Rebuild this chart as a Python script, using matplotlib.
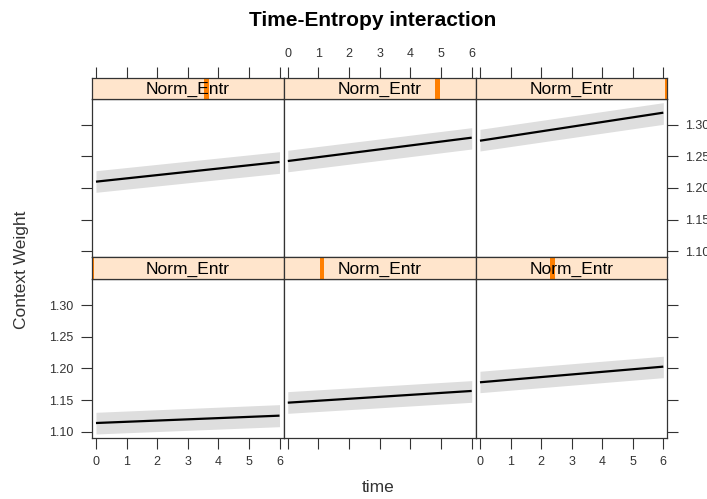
import matplotlib
matplotlib.use("Agg")
import matplotlib.pyplot as plt
from matplotlib.patches import Rectangle

plt.rcParams['font.family'] = ['Liberation Sans', 'DejaVu Sans']

# Effect of time on context weight, conditioned on normalised entropy
times = [0, 6]
entropy_pos = [0.0, 0.2, 0.4, 0.6, 0.8, 1.0]   # position of Norm_Entr within its range
fit_start = [1.1137, 1.1458, 1.1780, 1.2100, 1.2426, 1.2747]
fit_end = [1.1253, 1.1643, 1.2027, 1.2411, 1.2795, 1.3190]
lower_start = [1.0964, 1.1290, 1.1616, 1.1932, 1.2256, 1.2585]
upper_start = [1.1306, 1.1632, 1.1954, 1.2273, 1.2596, 1.2927]
lower_end = [1.1079, 1.1464, 1.1853, 1.2232, 1.2616, 1.3006]
upper_end = [1.1427, 1.1806, 1.2191, 1.2573, 1.2953, 1.3348]

x_ticks = [0, 1, 2, 3, 4, 5, 6]
x_ticklabels = ["0", "1", "2", "3", "4", "5", "6"]
y_ticks = [1.10, 1.15, 1.20, 1.25, 1.30]
y_ticklabels = ["1.10", "1.15", "1.20", "1.25", "1.30"]

W, H = 707, 499
fig = plt.figure(figsize=(W / 100, H / 100), dpi=100)

col_edges = [91.7, 283.5, 475.7, 667.3]
rows = [  # (strip top, panel top, panel bottom) in pixels from top
    (78.0, 99.0, 257.3),
    (257.3, 279.3, 437.7),
]
xlim = (-0.14, 6.13)
ylim = (1.0905, 1.3406)

edge = '#333333'
txt = '#333333'
band_col = '#DEDEDE'
strip_bg = '#FFE5CC'
strip_mark = '#FF7F00'


def fig_rect(x0, y0, x1, y1):
    return [x0 / W, 1 - y1 / H, (x1 - x0) / W, (y1 - y0) / H]


for r, (st, pt, pb) in enumerate(rows):
    for c in range(3):
        # lattice ordering: bottom row first, left to right
        k = c if r == 1 else 3 + c
        x0, x1 = col_edges[c], col_edges[c + 1]
        ax = fig.add_axes(fig_rect(x0, pt, x1, pb))
        ax.set_xlim(*xlim)
        ax.set_ylim(*ylim)
        lo = [lower_start[k], lower_end[k]]
        hi = [upper_start[k], upper_end[k]]
        ax.fill_between(times, lo, hi, color=band_col, lw=0, zorder=1)
        ax.plot(times, [fit_start[k], fit_end[k]], color='black', lw=1.6,
                zorder=2, solid_capstyle='butt')
        for s in ax.spines.values():
            s.set_color(edge)
            s.set_linewidth(0.9)
        ax.tick_params(colors=edge, labelcolor=txt, labelsize=9,
                       length=8, width=0.8, pad=5, direction='out')

        # y axis: labels alternate left (bottom row) / right (top row)
        ax.set_yticks(y_ticks)
        ax.set_yticklabels(y_ticklabels)
        if c == 0:
            ax.tick_params(axis='y', left=True, labelleft=(r == 1),
                           right=False, labelright=False)
        elif c == 2:
            ax.tick_params(axis='y', left=False, labelleft=False,
                           right=True, labelright=(r == 0))
        else:
            ax.tick_params(axis='y', left=False, right=False,
                           labelleft=False, labelright=False)

        # bottom x axis only on the lower row; middle column unlabeled
        ax.set_xticks(x_ticks)
        show_bottom_labels = (r == 1 and c != 1)
        ax.set_xticklabels(x_ticklabels if show_bottom_labels else [""] * 7)
        ax.tick_params(axis='x', bottom=(r == 1),
                       labelbottom=show_bottom_labels,
                       top=False, labeltop=False)

        # strip with the conditioning value indicator
        sax = fig.add_axes(fig_rect(x0, st, x1, pt))
        sax.set_xlim(*xlim)
        sax.set_ylim(0, 1)
        sax.set_facecolor(strip_bg)
        bw = 4.6 / (x1 - x0)
        sax.add_patch(Rectangle((entropy_pos[k] - bw / 2, 0), bw, 1,
                                transform=sax.transAxes, color=strip_mark,
                                lw=0, clip_on=True))
        sax.text(0.5, 0.46, "Norm_Entr", transform=sax.transAxes,
                 ha='center', va='center', fontsize=12.5, color='black')
        for s in sax.spines.values():
            s.set_color(edge)
            s.set_linewidth(0.9)
        sax.set_yticks([])
        sax.set_xticks(x_ticks)
        show_top_labels = (r == 0 and c == 1)
        sax.set_xticklabels(x_ticklabels if show_top_labels else [""] * 7)
        sax.tick_params(axis='x', colors=edge, labelcolor=txt, labelsize=9,
                        length=8, width=0.8, pad=5, direction='out',
                        bottom=False, labelbottom=False,
                        top=(r == 0), labeltop=show_top_labels)

fig.text(373 / W, 1 - 20 / H, "Time-Entropy interaction", ha='center',
         va='center', fontsize=15, fontweight='bold', color='black')
fig.text(378 / W, 1 - 488 / H, "time", ha='center', va='center',
         fontsize=12.5, color=txt)
fig.text(22 / W, 1 - 270 / H, "Context Weight", ha='center', va='center',
         rotation=90, fontsize=12.5, color=txt)

fig.savefig("out.png", dpi=100, facecolor='white')
